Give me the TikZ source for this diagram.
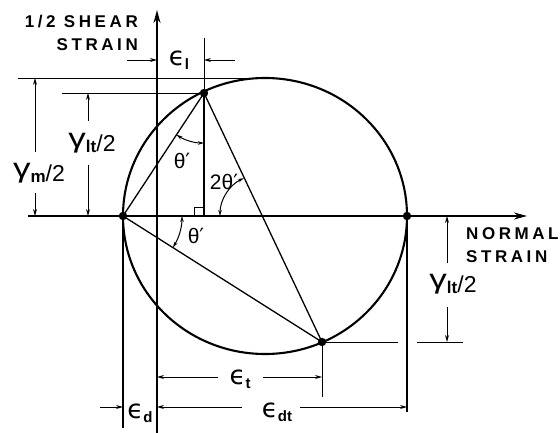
\documentclass[tikz,border=0pt]{standalone}
\usepackage{graphicx}
\usepackage{fontspec}
\setsansfont{Liberation Sans}
\newfontfamily\lblfont{Liberation Sans}
\newfontfamily\dvfont{DejaVu Sans}
\usetikzlibrary{arrows.meta}
\newcommand\gamlbl[1]{{\lblfont\fontsize{27}{27}\selectfont\scalebox{1.3}[1]{γ}}\raisebox{-5pt}{\lblfont\bfseries\fontsize{17}{17}\selectfont #1}\raisebox{-4pt}{\lblfont\fontsize{23}{23}\selectfont/2}}
\newcommand\epslbl[1]{{\dvfont\fontsize{26}{26}\selectfont ϵ}\raisebox{-4pt}{\lblfont\bfseries\fontsize{15}{15}\selectfont #1}}
\newcommand\thlbl[1]{{\lblfont\fontsize{21}{21}\selectfont #1θ{\dvfont ′}}}
\begin{document}
\begin{tikzpicture}[x=1pt,y=-1pt,
  axisline/.style={line width=1.6pt,-{Stealth[length=13pt,width=7pt]}},
  mainline/.style={line width=1.3pt},
  circline/.style={line width=2.1pt},
  extline/.style={line width=0.9pt},
  dimarrow/.style={line width=0.9pt,-{Stealth[length=7pt,width=4pt]}},
  arcdim/.style={line width=1pt,{Stealth[length=6pt,width=3.5pt]}-{Stealth[length=6pt,width=3.5pt]}},
  axlabel/.style={font=\sffamily\bfseries\fontsize{17}{22.5}\selectfont\addfontfeature{LetterSpace=21}},
  lbl/.style={inner sep=0pt},
  dot/.style={fill=black}]
\useasboundingbox (0,0) rectangle (560,433);
% key points
\coordinate (D) at (123,216);
\coordinate (R) at (407,216);
\coordinate (C) at (265,216);
\coordinate (X) at (262,216);
\coordinate (A) at (204,93);
\coordinate (B) at (322,342);
% axes
\coordinate (vb) at (157,433);
\coordinate (vt) at (157,10);
\coordinate (hl) at (28,216);
\coordinate (hr) at (527,216);
\draw[axisline] (vb) -- (vt);
\draw[axisline] (hl) -- (hr);
% circle
\draw[circline] (C) ellipse[x radius=142,y radius=138];
% chords
\draw[mainline] (D) -- (A);
\draw[mainline] (D) -- (B);
\draw[mainline] (A) -- (B);
\coordinate (Atop) at (204,38);
\coordinate (Afoot) at (204,216);
\draw[extline] (Atop) -- (A);
\draw[mainline] (A) -- (Afoot);
\draw[extline] ([shift={(-10,0)}]Afoot) -- ++(0,-9) -- ++(10,0);
% top extension lines
\coordinate (T1) at (18,78);
\coordinate (Ctop) at (265,78);
\draw[extline] (T1) -- (Ctop);
\coordinate (T2) at (62,93);
\draw[extline] (T2) -- (A);
% gamma_m/2
\node[lbl] (gm) at (39,173) {\gamlbl{m}};
\coordinate (gmT) at (35,78);
\coordinate (gmB) at (35,216);
\coordinate (gm1) at (35,152);
\coordinate (gm2) at (35,193);
\draw[dimarrow] (gm1) -- (gmT);
\draw[dimarrow] (gm2) -- (gmB);
% gamma_lt/2 left
\node[lbl] (glt) at (92,143) {\gamlbl{lt}};
\coordinate (g1T) at (88,93);
\coordinate (g1B) at (88,216);
\coordinate (g1a) at (88,121);
\coordinate (g1b) at (88,165);
\draw[dimarrow] (g1a) -- (g1T);
\draw[dimarrow] (g1b) -- (g1B);
% epsilon_l
\node[lbl] (eps1) at (179,60) {\epslbl{l}};
\coordinate (e1a) at (127,60);
\coordinate (e1b) at (157,60);
\coordinate (e1c) at (235,60);
\coordinate (e1d) at (204,60);
\draw[dimarrow] (e1a) -- (e1b);
\draw[dimarrow] (e1c) -- (e1d);
% angle arcs
\draw[arcdim] ([shift={(90:50)}]A) arc[start angle=90,end angle=123.4,radius=50];
\draw[arcdim] ([shift={(0:59)}]D) arc[start angle=0,end angle=32.3,radius=59];
\draw[arcdim] ([shift={(180:42)}]X) arc[start angle=180,end angle=244.4,radius=42];
\node[lbl] (th1) at (182,161) {\thlbl{}};
\node[lbl] (th2) at (224,182) {\thlbl{2}};
\node[lbl] (th3) at (196,236) {\thlbl{}};
% right side
\coordinate (Bx1) at (398,342);
\coordinate (Bx2) at (417,342);
\coordinate (Bx3) at (463,342);
\draw[extline] (B) -- (Bx1);
\draw[extline] (Bx2) -- (Bx3);
\coordinate (Rbot) at (407,412);
\draw[mainline] (R) -- (Rbot);
\node[lbl] (glr) at (453,284) {\gamlbl{lt}};
\coordinate (g2T) at (447,216);
\coordinate (g2B) at (447,342);
\coordinate (g2a) at (447,263);
\coordinate (g2b) at (447,307);
\draw[dimarrow] (g2a) -- (g2T);
\draw[dimarrow] (g2b) -- (g2B);
% bottom
\coordinate (Bbot) at (322,397);
\draw[extline] (B) -- (Bbot);
\coordinate (Dbot) at (123,428);
\draw[mainline] (D) -- (Dbot);
\node[lbl] (et) at (240,379) {\epslbl{t}};
\coordinate (et0) at (157,377);
\coordinate (et1) at (218,377);
\coordinate (et2) at (263,377);
\coordinate (et3) at (322,377);
\draw[dimarrow] (et1) -- (et0);
\draw[dimarrow] (et2) -- (et3);
\node[lbl] (edt) at (277,412) {\epslbl{dt}};
\coordinate (ed0) at (157,407);
\coordinate (ed1) at (242,407);
\coordinate (ed2) at (300,407);
\coordinate (ed3) at (407,407);
\draw[dimarrow] (ed1) -- (ed0);
\draw[dimarrow] (ed2) -- (ed3);
\node[lbl] (ed) at (140,413) {\epslbl{d}};
\coordinate (edl) at (100,407);
\coordinate (edr) at (123,407);
\draw[dimarrow] (edl) -- (edr);
% axis labels
\node[axlabel, anchor=east, align=right, inner sep=0pt] (yl) at (138,33) {1/2 SHEAR\\STRAIN};
\node[axlabel, anchor=west, align=left, inner sep=0pt] (xl) at (466,245) {NORMAL\\STRAIN};
% dots
\fill[dot] (A) circle[radius=4.2];
\fill[dot] (B) circle[radius=4.2];
\fill[dot] (D) circle[radius=4.2];
\fill[dot] (R) circle[radius=4.2];
\end{tikzpicture}
\end{document}
